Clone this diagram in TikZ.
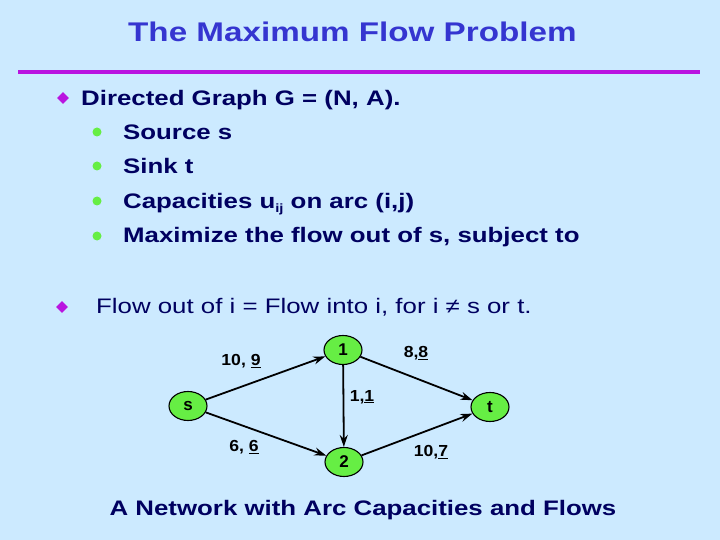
\documentclass[tikz,border=0pt]{standalone}
\usepackage{fontspec}
\usepackage{graphicx}
\setmainfont{Liberation Sans}
\usetikzlibrary{shapes.geometric,arrows.meta}
\definecolor{bg}{HTML}{CCEAFF}
\definecolor{titleblue}{HTML}{3535D0}
\definecolor{purp}{HTML}{B914E0}
\definecolor{navy}{HTML}{000060}
\definecolor{nodegreen}{HTML}{66EE44}
\definecolor{dotgreen}{HTML}{66EE44}
\newcommand\widetxt[1]{\scalebox{1.23}[1]{#1}}
\newcommand\wlab[1]{\scalebox{1.1}[1]{#1}}
\begin{document}
\begin{tikzpicture}[x=1pt,y=-1pt,
  vert/.style={ellipse,draw=black,line width=1.1pt,fill=nodegreen,minimum width=38pt,minimum height=29pt,inner sep=0pt,font=\fontsize{17}{17}\bfseries\selectfont},
  arc/.style={draw=black,line width=1.8pt,-{Stealth[length=12pt,width=8pt]}},
  elab/.style={font=\fontsize{16}{16}\bfseries\selectfont,inner sep=0pt},
  btext/.style={anchor=base west,text=navy,font=\fontsize{21}{21}\bfseries\selectfont,inner sep=0pt},
  diam/.style={diamond,fill=purp,minimum width=12pt,minimum height=12pt,inner sep=0pt},
  dot/.style={circle,fill=dotgreen,minimum size=9pt,inner sep=0pt}]
\useasboundingbox (0,0) rectangle (720,540);
\fill[bg] (0,0) rectangle (720,540);
% title
\node[anchor=base west,text=titleblue,font=\fontsize{27}{27}\bfseries\selectfont,inner sep=0pt] (title) at (128,42) {\widetxt{The Maximum Flow Problem}};
\draw[purp,line width=4pt] (18,72) -- (700,72);
% bullets
\node[diam] (d1) at (63,98) {};
\node[btext] (t1) at (81,106) {\widetxt{Directed Graph G = (N, A).}};
\node[dot] (b1) at (97,132) {};
\node[btext] (t2) at (123,140) {\widetxt{Source s}};
\node[dot] (b2) at (97,166) {};
\node[btext] (t3) at (123,174) {\widetxt{Sink t}};
\node[dot] (b3) at (97,201) {};
\node[btext] (t4) at (123,208) {\widetxt{Capacities u\raisebox{-4pt}{\fontsize{12}{12}\selectfont ij} on arc (i,j)}};
\node[dot] (b4) at (97,236) {};
\node[btext] (t5) at (123,243) {\widetxt{Maximize the flow out of s, subject to}};
\node[diam] (d2) at (62,307) {};
\node[btext,font=\fontsize{21}{21}\selectfont] (t6) at (96,313) {\widetxt{Flow out of i = Flow into i, for i ≠ s or t.}};
% graph
\node[vert] (s) at (188,406) {s};
\node[vert] (n1) at (343,350) {1};
\node[vert] (n2) at (344,462) {2};
\node[vert] (t) at (490,407) {t};
\draw[arc] (s) -- (n1);
\draw[arc] (s) -- (n2);
\draw[arc] (n1) -- (t);
\draw[arc] (n2) -- (t);
\draw[arc] (n1) -- (n2);
\node[elab] (l1) at (241,361) {\wlab{10, \underline{9}}};
\node[elab] (l2) at (416,353) {\wlab{8,\underline{8}}};
\node[elab] (l3) at (362,397) {\wlab{1,\underline{1}}};
\node[elab] (l4) at (244,447) {\wlab{6, \underline{6}}};
\node[elab] (l5) at (431,452) {\wlab{10,\underline{7}}};
% caption
\node[anchor=base,text=navy,font=\fontsize{21}{21}\bfseries\selectfont,inner sep=0pt] (cap) at (363,515) {\widetxt{A Network with Arc Capacities and Flows}};
\end{tikzpicture}
\end{document}
